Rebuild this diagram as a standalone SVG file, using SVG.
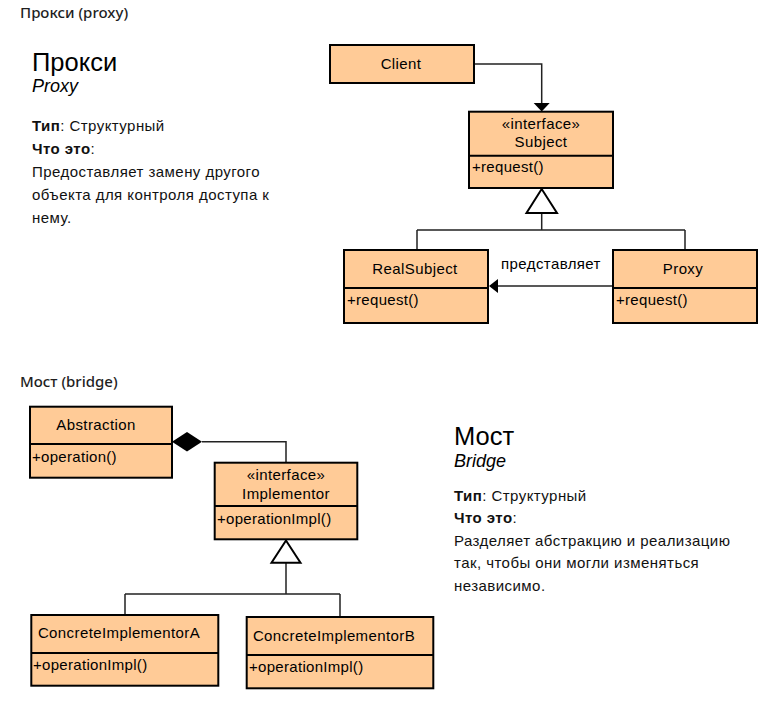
<svg xmlns="http://www.w3.org/2000/svg" width="779" height="713" viewBox="0 0 779 713">
<style>
.hdr{font-family:"Noto Sans","Open Sans",sans-serif;font-size:15px;font-weight:500;fill:#1f1f1f}
.ttl{font-family:"Liberation Sans",Arial,sans-serif;font-size:25.5px;fill:#000}
.sub{font-family:"Liberation Sans",Arial,sans-serif;font-size:18px;font-style:italic;fill:#000}
.txt{font-family:"Liberation Sans",Arial,sans-serif;font-size:15px;fill:#111;letter-spacing:0.45px}
.b{font-weight:bold}
.box{fill:#FFCB97;stroke:#000;stroke-width:2}
.div{stroke:#000;stroke-width:2}
.nm{font-family:"Liberation Sans",Arial,sans-serif;font-size:15px;fill:#000;text-anchor:middle;letter-spacing:0.4px}
.op{font-family:"Liberation Sans",Arial,sans-serif;font-size:15px;fill:#000;letter-spacing:0.3px}
.ln{fill:none;stroke:#222;stroke-width:1.5}
</style>
<rect width="779" height="713" fill="#fff"/>

<text class="hdr" x="20" y="18">Прокси (proxy)</text>
<text class="ttl" x="32" y="71">Прокси</text>
<text class="sub" x="32" y="92">Proxy</text>
<text class="txt" x="32" y="131"><tspan class="b">Тип</tspan>: Структурный</text>
<text class="txt" x="32" y="154"><tspan class="b">Что это</tspan>:</text>
<text class="txt" x="32" y="177">Предоставляет замену другого</text>
<text class="txt" x="32" y="200">объекта для контроля доступа к</text>
<text class="txt" x="32" y="223">нему.</text>

<text class="hdr" x="20" y="387">Мост (bridge)</text>
<text class="ttl" x="454" y="445">Мост</text>
<text class="sub" x="454" y="467">Bridge</text>
<text class="txt" x="454" y="501"><tspan class="b">Тип</tspan>: Структурный</text>
<text class="txt" x="454" y="523"><tspan class="b">Что это</tspan>:</text>
<text class="txt" x="454" y="546">Разделяет абстракцию и реализацию</text>
<text class="txt" x="454" y="568">так, чтобы они могли изменяться</text>
<text class="txt" x="454" y="591">независимо.</text>

<g id="connectors">
<path class="ln" d="M474,64 H541.7 V103"/>
<polygon points="533.7,103 549.7,103 541.7,111.5" fill="#000"/>
<path class="ln" d="M541.7,213 V230 M417,230 H685 M417,230 V250 M685,230 V250"/>
<polygon points="541.7,189 526.5,213 557,213" fill="#fff" stroke="#000" stroke-width="2"/>
<path class="ln" d="M613,286 H497"/>
<polygon points="489,286 498,279 498,293" fill="#000"/>
<text class="nm" x="551" y="269">представляет</text>
<path class="ln" d="M202,441.7 H286 V462.7"/>
<polygon points="172,441.7 187,432 202,441.7 187,451.4" fill="#000"/>
<path class="ln" d="M286,562.7 V594 M125,594 H340 M125,594 V615 M340,594 V617"/>
<polygon points="286,540.5 271.5,562.7 300.5,562.7" fill="#fff" stroke="#000" stroke-width="2"/>
</g>

<g id="client">
<rect class="box" x="330" y="45" width="144" height="38"/>
<text class="nm" x="401" y="69">Client</text>
</g>
<g id="subject">
<rect class="box" x="469" y="111.7" width="144" height="76.3"/>
<line class="div" x1="469" y1="155.7" x2="613" y2="155.7"/>
<text class="nm" x="541" y="129">«interface»</text>
<text class="nm" x="541" y="147">Subject</text>
<text class="op" x="472" y="172">+request()</text>
</g>
<g id="realsubject">
<rect class="box" x="344" y="250" width="144" height="73"/>
<line class="div" x1="344" y1="288" x2="488" y2="288"/>
<text class="nm" x="415" y="274">RealSubject</text>
<text class="op" x="347" y="305">+request()</text>
</g>
<g id="proxy">
<rect class="box" x="613" y="250" width="144" height="73"/>
<line class="div" x1="613" y1="288" x2="757" y2="288"/>
<text class="nm" x="683" y="274">Proxy</text>
<text class="op" x="616" y="305">+request()</text>
</g>

<g id="abstraction">
<rect class="box" x="30" y="406.7" width="142" height="71"/>
<line class="div" x1="30" y1="444" x2="172" y2="444"/>
<text class="nm" x="96" y="430">Abstraction</text>
<text class="op" x="32" y="462">+operation()</text>
</g>
<g id="implementor">
<rect class="box" x="214.7" y="462.7" width="142.6" height="76.6"/>
<line class="div" x1="214.7" y1="506" x2="357.3" y2="506"/>
<text class="nm" x="286" y="480">«interface»</text>
<text class="nm" x="286" y="499">Implementor</text>
<text class="op" x="217" y="523.5">+operationImpl()</text>
</g>
<g id="concreteA">
<rect class="box" x="31.3" y="615" width="187" height="70.7"/>
<line class="div" x1="31.3" y1="653" x2="218.3" y2="653"/>
<text class="nm" x="119" y="638">ConcreteImplementorA</text>
<text class="op" x="33" y="670">+operationImpl()</text>
</g>
<g id="concreteB">
<rect class="box" x="246.7" y="617" width="186.6" height="71.3"/>
<line class="div" x1="246.7" y1="655" x2="433.3" y2="655"/>
<text class="nm" x="334" y="641">ConcreteImplementorB</text>
<text class="op" x="249" y="672">+operationImpl()</text>
</g>
</svg>
